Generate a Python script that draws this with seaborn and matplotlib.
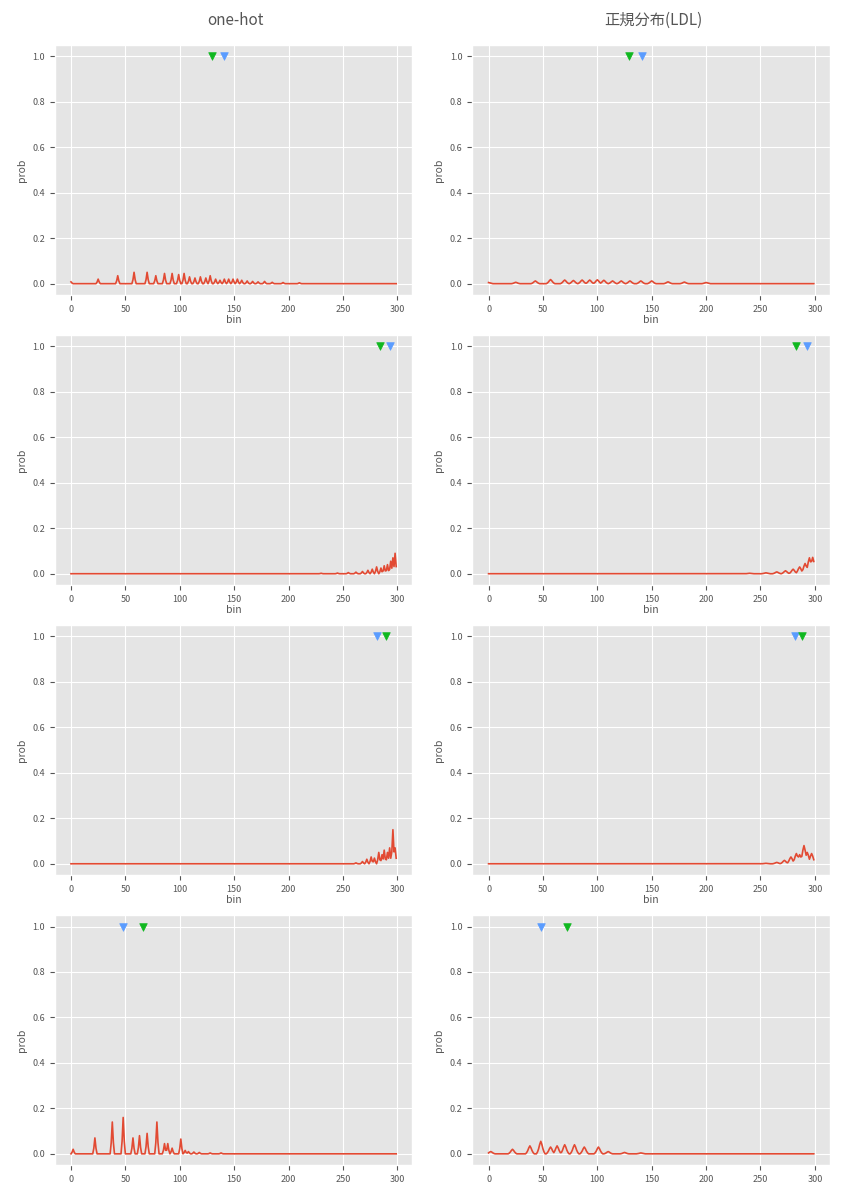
import numpy as np
import pandas as pd
import matplotlib
matplotlib.use('Agg')
import matplotlib.pyplot as plt
import seaborn as sns

plt.style.use('ggplot')
plt.rcParams['font.family'] = ['Noto Sans CJK JP', 'DejaVu Sans']

N_BINS = 300
COL_TITLES = ['one-hot', '正規分布(LDL)']

# peak (bin, prob) lists, row by row
ONEHOT_PEAKS = [
    [(0, 0.008), (25, 0.02), (43, 0.035), (58, 0.05), (70, 0.05), (78, 0.035), (86, 0.045),
     (93, 0.045), (99, 0.04), (104, 0.045), (109, 0.03), (114, 0.025), (119, 0.03), (124, 0.025),
     (128, 0.035), (133, 0.02), (137, 0.015), (141, 0.02), (145, 0.02), (149, 0.02), (153, 0.02),
     (157, 0.015), (162, 0.012), (167, 0.01), (172, 0.008), (178, 0.01), (185, 0.006),
     (195, 0.005), (210, 0.004)],
    [(230, 0.002), (245, 0.003), (255, 0.005), (262, 0.007), (268, 0.01), (273, 0.015),
     (277, 0.02), (281, 0.03), (285, 0.025), (288, 0.035), (291, 0.04), (294, 0.055),
     (296, 0.07), (298, 0.09)],
    [(262, 0.004), (268, 0.01), (272, 0.02), (276, 0.03), (279, 0.025), (283, 0.05),
     (286, 0.04), (288, 0.06), (291, 0.05), (293, 0.07), (296, 0.15), (298, 0.07)],
    [(2, 0.02), (22, 0.07), (38, 0.14), (48, 0.16), (57, 0.07), (63, 0.08), (70, 0.09),
     (79, 0.14), (86, 0.045), (89, 0.045), (93, 0.025), (101, 0.065), (105, 0.015),
     (108, 0.01), (113, 0.008), (118, 0.006), (128, 0.004), (138, 0.004)],
]
LDL_PEAKS = [
    [(0, 0.005), (25, 0.006), (43, 0.012), (57, 0.018), (70, 0.016), (78, 0.014), (86, 0.016),
     (93, 0.016), (100, 0.017), (106, 0.015), (114, 0.012), (122, 0.012), (130, 0.012),
     (140, 0.012), (150, 0.012), (165, 0.008), (180, 0.007), (200, 0.005)],
    [(240, 0.002), (255, 0.004), (265, 0.008), (273, 0.013), (280, 0.02), (286, 0.03),
     (291, 0.045), (295, 0.07), (298, 0.072)],
    [(255, 0.002), (265, 0.006), (272, 0.015), (278, 0.03), (283, 0.045), (286, 0.04),
     (290, 0.08), (293, 0.05), (297, 0.045)],
    [(2, 0.01), (22, 0.02), (38, 0.035), (48, 0.055), (57, 0.03), (63, 0.035), (70, 0.04),
     (79, 0.04), (88, 0.03), (101, 0.03), (110, 0.01), (125, 0.006), (140, 0.004)],
]
# (label bin, colour) triangles at prob = 1.0
ONEHOT_MARKS = [[(130, 'g'), (141, 'b')], [(284, 'g'), (293, 'b')],
                [(281, 'b'), (290, 'g')], [(48, 'b'), (66, 'g')]]
LDL_MARKS = [[(129, 'g'), (141, 'b')], [(283, 'g'), (293, 'b')],
             [(282, 'b'), (288, 'g')], [(48, 'b'), (72, 'g')]]
MARK_COLORS = {'g': '#10b820', 'b': '#5a9cff'}

ONEHOT_KERNEL = [0.35, 1.0, 0.35]
LDL_KERNEL = [0.15, 0.4, 0.75, 1.0, 0.75, 0.4, 0.15]


def build_series(peaks, kernel):
    y = np.zeros(N_BINS)
    half = len(kernel) // 2
    for pos, h in peaks:
        for k, w in enumerate(kernel):
            i = pos + k - half
            if 0 <= i < N_BINS:
                y[i] = max(y[i], h * w)
    return y


fig, axes = plt.subplots(4, 2, figsize=(8.54, 12), dpi=100)
plt.subplots_adjust(left=0.064, right=0.972, top=0.9625, bottom=0.029,
                    wspace=0.167, hspace=0.16)

for r in range(4):
    for c, (peaks, kernel, marks) in enumerate([(ONEHOT_PEAKS, ONEHOT_KERNEL, ONEHOT_MARKS),
                                                (LDL_PEAKS, LDL_KERNEL, LDL_MARKS)]):
        ax = axes[r, c]
        df = pd.DataFrame({'bin': np.arange(N_BINS), 'prob': build_series(peaks[r], kernel)})
        sns.lineplot(data=df, x='bin', y='prob', ax=ax, color='#e24a33', linewidth=1.2)
        for pos, col in marks[r]:
            ax.scatter([pos], [1.0], marker='v', color=MARK_COLORS[col], s=30, zorder=3)
        ax.set_xlim(-15, 314)
        ax.set_ylim(-0.05, 1.05)
        ax.set_xticks([0, 50, 100, 150, 200, 250, 300])
        ax.set_yticks([0, 0.2, 0.4, 0.6, 0.8, 1.0])
        ax.tick_params(labelsize=6.5, colors='#555555')
        ax.set_ylabel('prob', fontsize=7.5, color='#555555')
        ax.set_xlabel('bin' if r < 3 else '', fontsize=7.5, color='#555555', labelpad=1)

for c, t in enumerate(COL_TITLES):
    fig.text([0.276, 0.765][c], 0.983, t, ha='center', va='center', fontsize=11, color='#555555')

fig.savefig('out.png', dpi=100)
